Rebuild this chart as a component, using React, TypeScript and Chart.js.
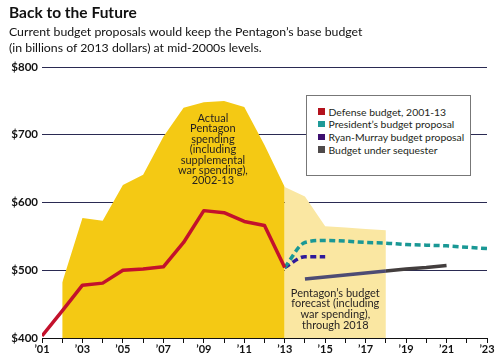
import React, { useEffect, useRef } from 'react';
import { Chart, registerables } from 'chart.js';

Chart.register(...registerables);

const defenseYears = [2001, 2002, 2003, 2004, 2005, 2006, 2007, 2008, 2009, 2010, 2011, 2012, 2013];
const defenseBudget = [403, 440, 478, 481, 500, 502, 505, 541, 588, 585, 572, 566, 504];

const actualYears = [2002, 2003, 2004, 2005, 2006, 2007, 2008, 2009, 2010, 2011, 2012, 2013];
const actualSpending = [482, 577, 573, 626, 641, 697, 740, 748, 750, 741, 685, 623];

const forecastYears = [2013, 2014, 2015, 2016, 2017, 2018];
const forecastSpending = [623, 609, 565, 563, 561, 559];

const presidentYears = [2013, 2014, 2015, 2016, 2017, 2018, 2019, 2020, 2021, 2022, 2023];
const presidentProposal = [504, 541, 544, 543, 541, 540, 538, 537, 536, 534, 532];

const ryanYears = [2013, 2014, 2015];
const ryanProposal = [504, 520, 520];

const sequesterYears = [2014, 2015, 2016, 2017, 2018, 2019, 2020, 2021];
const sequesterBudget = [487, 490, 493, 496, 499, 502, 504, 507];

const yTickValues = [400, 500, 600, 700, 800];
const xLabelYears = [2001, 2003, 2005, 2007, 2009, 2011, 2013, 2015, 2017, 2019, 2021, 2023];

const actualNote = ['Actual', 'Pentagon', 'spending', '(including', 'supplemental', 'war spending),', '2002-13'];
const forecastNote = ['Pentagon\u2019s budget', 'forecast (including', 'war spending),', 'through 2018'];

const legendItems = [
  { label: 'Defense budget, 2001-13', color: '#b3121d' },
  { label: 'President\u2019s budget proposal', color: '#1f9a98' },
  { label: 'Ryan-Murray budget proposal', color: '#3c0f70' },
  { label: 'Budget under sequester', color: '#4f4a4a' },
];

const pts = (xs: number[], ys: number[]) => xs.map((x, i) => ({ x, y: ys[i] }));

const FONT = 'Lato, "Open Sans", sans-serif';

export default function App() {
  const ref = useRef<HTMLCanvasElement>(null);

  useEffect(() => {
    if (!ref.current) return;
    Chart.defaults.font.family = FONT;

    const notesPlugin = {
      id: 'notes',
      afterDatasetsDraw(chart: any) {
        const { ctx, scales } = chart;
        const xs = scales.x;
        const ys = scales.y;
        ctx.save();
        ctx.strokeStyle = '#111';
        ctx.lineWidth = 1;
        ctx.beginPath();
        const yb = Math.round(ys.getPixelForValue(400)) + 0.5;
        ctx.moveTo(chart.chartArea.left, yb);
        ctx.lineTo(chart.chartArea.right, yb);
        ctx.stroke();

        ctx.fillStyle = '#231f20';
        ctx.font = `11px ${FONT}`;
        ctx.textAlign = 'center';
        ctx.textBaseline = 'middle';
        const x1 = xs.getPixelForValue(2009.45);
        const y1 = ys.getPixelForValue(724);
        actualNote.forEach((t, i) => ctx.fillText(t, x1, y1 + i * 10.4));
        const x2 = xs.getPixelForValue(2015.5);
        const y2 = ys.getPixelForValue(466);
        forecastNote.forEach((t, i) => ctx.fillText(t, x2, y2 + i * 10.6));
        ctx.restore();
      },
    };

    const chart = new Chart(ref.current, {
      type: 'line',
      data: {
        datasets: [
          {
            label: 'Defense budget, 2001-13',
            data: pts(defenseYears, defenseBudget),
            borderColor: '#c3112c',
            borderWidth: 3.5,
            pointRadius: 0,
            tension: 0,
            fill: false,
            order: 1,
            borderJoinStyle: 'round',
          },
          {
            label: 'President\u2019s budget proposal',
            data: pts(presidentYears, presidentProposal),
            borderColor: '#1a9895',
            borderWidth: 3.5,
            borderDash: [6, 3.5],
            pointRadius: 0,
            cubicInterpolationMode: 'monotone',
            fill: false,
            order: 2,
          },
          {
            label: 'Ryan-Murray budget proposal',
            data: pts(ryanYears, ryanProposal),
            borderColor: '#2f1a9a',
            borderWidth: 3.5,
            borderDash: [6, 3.5],
            pointRadius: 0,
            cubicInterpolationMode: 'monotone',
            fill: false,
            order: 3,
          },
          {
            label: 'Budget under sequester',
            data: pts(sequesterYears, sequesterBudget),
            borderColor: '#45434f',
            segment: {
              borderColor: (c: any) => (c.p1.parsed.x <= 2018 ? '#4d4c74' : '#433e3e'),
            },
            borderWidth: 3.5,
            pointRadius: 0,
            tension: 0,
            fill: false,
            order: 4,
          },
          {
            label: 'Actual spending',
            data: pts(actualYears, actualSpending),
            borderWidth: 0,
            borderColor: 'rgba(0,0,0,0)',
            backgroundColor: '#f4c914',
            pointRadius: 0,
            tension: 0,
            fill: { value: 400 },
            order: 10,
          },
          {
            label: 'Forecast',
            data: pts(forecastYears, forecastSpending),
            borderWidth: 0,
            borderColor: 'rgba(0,0,0,0)',
            backgroundColor: '#fae7a2',
            pointRadius: 0,
            tension: 0,
            fill: { value: 400 },
            order: 11,
          },
        ],
      },
      options: {
        responsive: false,
        animation: false,
        events: [],
        layout: { padding: { top: 67, right: 13, left: 0, bottom: 0 } },
        plugins: {
          legend: { display: false },
          tooltip: { enabled: false },
          title: { display: false },
        },
        scales: {
          x: {
            type: 'linear',
            min: 2001,
            max: 2023,
            afterFit: (s: any) => { s.height = 26; },
            afterBuildTicks: (s: any) => {
              const t = [];
              for (let v = 2001; v <= 2023; v++) t.push({ value: v });
              s.ticks = t;
            },
            ticks: {
              autoSkip: false,
              maxRotation: 0,
              padding: 0,
              color: '#111',
              font: { size: 11, weight: 'bold', family: FONT },
              callback: (v: any) => (xLabelYears.includes(Number(v)) ? '\u2019' + String(v).slice(2) : ''),
            },
            grid: { drawOnChartArea: false, drawTicks: true, tickLength: 5, color: '#111' },
            border: { display: true, color: '#111' },
          },
          y: {
            min: 400,
            max: 800,
            afterFit: (s: any) => { s.width = 42; },
            afterBuildTicks: (s: any) => { s.ticks = yTickValues.map((v) => ({ value: v })); },
            ticks: {
              padding: 4,
              color: '#111',
              font: { size: 11.5, weight: 'bold', family: FONT },
              callback: (v: any) => '$' + v,
            },
            grid: { color: '#2a2a52', lineWidth: 1, drawTicks: false },
            border: { display: false },
          },
        },
      },
      plugins: [notesPlugin],
    } as any);

    return () => chart.destroy();
  }, []);

  return (
    <div style={{ position: 'fixed', left: 0, top: 0, width: 500, height: 364, background: '#fff', fontFamily: FONT, color: '#111' }}>
      <canvas ref={ref} width={500} height={364} style={{ position: 'absolute', left: 0, top: 0 }} />
      <div style={{ position: 'absolute', left: 9, top: 3, fontSize: 15.5, fontWeight: 'bold', lineHeight: '18px' }}>Back to the Future</div>
      <div style={{ position: 'absolute', left: 9, top: 24, fontSize: 12.3, lineHeight: '15.5px', whiteSpace: 'nowrap' }}>
        Current budget proposals would keep the Pentagon{'\u2019'}s base budget
        <br />
        (in billions of 2013 dollars) at mid-2000s levels.
      </div>
      <div style={{ position: 'absolute', left: 306, top: 95, width: 163, height: 79, border: '1px solid #777', background: '#fff' }}>
        {legendItems.map((it, i) => (
          <div key={i} style={{ position: 'absolute', left: 11, top: 9 + i * 12.7, height: 13, display: 'flex', alignItems: 'center', fontSize: 10.4, whiteSpace: 'nowrap', color: '#231f20' }}>
            <span style={{ display: 'inline-block', width: 6.5, height: 6.5, background: it.color, marginRight: 4 }} />
            {it.label}
          </div>
        ))}
      </div>
    </div>
  );
}
